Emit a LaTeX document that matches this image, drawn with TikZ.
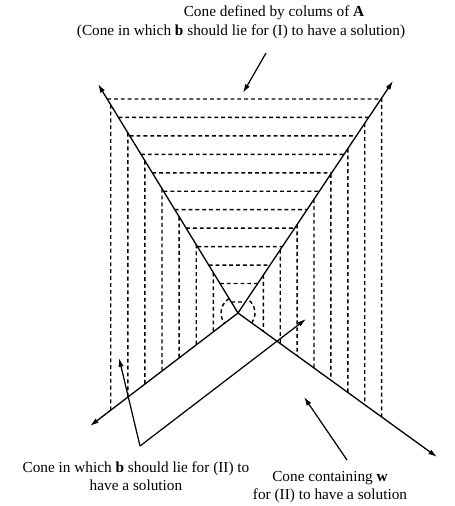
\documentclass[tikz,border=0pt]{standalone}
\usepackage{fontspec}
\setmainfont{Liberation Serif}
\usetikzlibrary{arrows.meta, calc}

\begin{document}
\begin{tikzpicture}[
    x=0.02cm, y=0.02cm,
    ray/.style={line width=0.75pt, -{Latex[length=5pt,width=3pt]}},
    pointer/.style={line width=0.7pt, -{Latex[length=5pt,width=3pt]}},
    hatch/.style={line width=0.8pt, dash pattern=on 2.2pt off 1.7pt},
    conetext/.style={font=\fontsize{8.7}{10}\selectfont, align=center, inner sep=0pt}
  ]
  \useasboundingbox (0,0) rectangle (454,-506);

  % apex and ray ends
  \coordinate (O) at (238,-313);
  \coordinate (TL) at (98,-84);
  \coordinate (TR) at (393,-81);
  \coordinate (BL) at (90,-426);
  \coordinate (BR) at (437,-457);

  % horizontal hatching inside the cone of A
  \foreach \k in {0,...,11} {
    \pgfmathsetmacro\h{214-18.45*\k}
    \draw[hatch] ($(O)!{\h/229}!(TL)$) -- ($(O)!{\h/232}!(TR)$);
  }

  % vertical hatching, left wedge
  \foreach \k in {0,...,6} {
    \pgfmathsetmacro\d{24.7+17.1*\k}
    \draw[hatch] ($(O)!{\d/140}!(TL)$) -- ($(O)!{\d/148}!(BL)$);
  }

  % vertical hatching, right wedge
  \foreach \k in {0,...,7} {
    \pgfmathsetmacro\d{25.3+16.9*\k}
    \draw[hatch] ($(O)!{\d/155}!(TR)$) -- ($(O)!{\d/199}!(BR)$);
  }

  % small arcs at the apex
  \draw[hatch] ($(O)+(121:17)$) arc[start angle=121, end angle=217, radius=17];
  \draw[hatch] ($(O)+(-36:17)$) arc[start angle=-36, end angle=56, radius=17];

  % the four rays
  \draw[ray] (O) -- (TL);
  \draw[ray] (O) -- (TR);
  \draw[ray] (O) -- (BL);
  \draw[ray] (O) -- (BR);

  % labels
  \node[conetext] (coneA) at (274,-13) {Cone defined by colums of $\mathbf{A}$};
  \node[conetext] (coneI) at (241,-32) {(Cone in which \textbf{b} should lie for (I) to have a solution)};
  \node[conetext] (coneII) at (136,-476) {Cone in which \textbf{b} should lie for (II) to\\have a solution};
  \node[conetext] (coneW) at (330,-487) {Cone containing \textbf{w}\\for (II) to have a solution};

  % pointer arrows
  \coordinate (Afoot) at (266,-53);
  \coordinate (Atip) at (243,-93);
  \draw[pointer] (Afoot) -- (Atip);

  \coordinate (bII) at (140,-446);
  \coordinate (tipL) at (119,-358);
  \coordinate (tipR) at (306,-319);
  \draw[pointer] (bII) -- (tipL);
  \draw[pointer] (bII) -- (tipR);

  \coordinate (wfoot) at (347,-460);
  \coordinate (wtip) at (304,-397);
  \draw[pointer] (wfoot) -- (wtip);
\end{tikzpicture}
\end{document}
